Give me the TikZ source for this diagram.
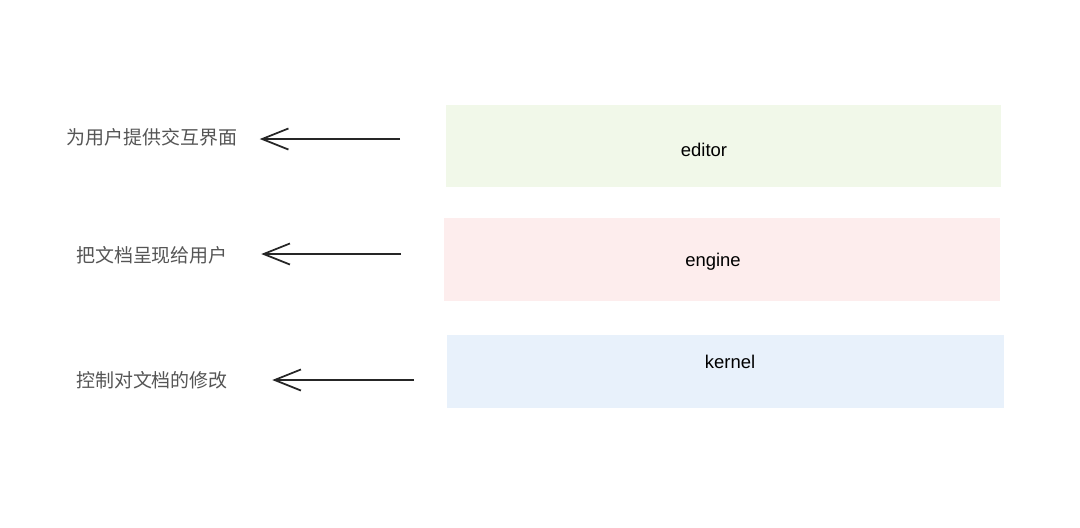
\documentclass[tikz,border=0pt]{standalone}
\usepackage{fontspec}
\setmainfont{Liberation Sans}
\newfontfamily\cjk{Noto Sans CJK SC}
\usepackage{xcolor}
\usetikzlibrary{arrows.meta,positioning}
\definecolor{layergreen}{HTML}{F1F8E9}
\definecolor{layerpink}{HTML}{FDEDED}
\definecolor{layerblue}{HTML}{E8F1FB}
\definecolor{notegray}{HTML}{555555}
\tikzset{
  layerbox/.style={
    rectangle, draw=none, inner sep=0pt, anchor=north west
  },
  layername/.style={font=\fontsize{10.5}{12}\selectfont, text=black, inner sep=0pt},
  layernote/.style={font=\cjk\fontsize{10.8}{13}\selectfont, text=notegray, inner sep=0pt},
  notearrow/.style={-{Straight Barb[length=15pt,width=12pt]}, line width=1pt, draw=black!85},
}

\begin{document}
\begin{tikzpicture}[x=0.02cm, y=-0.02cm]
  \useasboundingbox (0,0) rectangle (1080,528);
  % layers
  \node (ed) [layerbox, fill=layergreen, minimum width=555*0.02cm, minimum height=82*0.02cm] at (446,105) {};
  \node (en) [layerbox, fill=layerpink, minimum width=556*0.02cm, minimum height=83*0.02cm] at (444,218) {};
  \node (ke) [layerbox, fill=layerblue, minimum width=557*0.02cm, minimum height=73*0.02cm] at (447,335) {};
  \node (edt) [layername] at (704,150) {editor};
  \node (ent) [layername] at (713,262) {engine};
  \node (ket) [layername] at (730,362) {kernel};
  % notes
  \node (n1) [layernote] at (152,137) {为用户提供交互界面};
  \node (n2) [layernote] at (152,255) {把文档呈现给用户};
  \node (n3) [layernote] at (152,380) {控制对文档的修改};
  \coordinate (t1) at (400,139);
  \coordinate (t2) at (401,254);
  \coordinate (t3) at (414,380);
  \draw[notearrow, shorten >=22*0.02cm] (t1) -- (t1 -| n1.east);
  \draw[notearrow, shorten >=33*0.02cm] (t2) -- (t2 -| n2.east);
  \draw[notearrow, shorten >=44*0.02cm] (t3) -- (t3 -| n3.east);
\end{tikzpicture}
\end{document}
